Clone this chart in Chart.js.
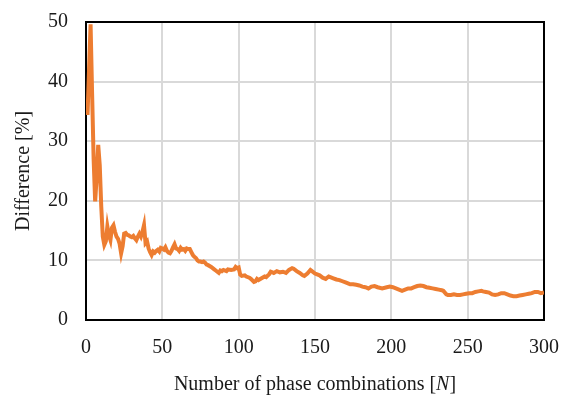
<!DOCTYPE html>
<html>
<head>
<meta charset="utf-8">
<script src="https://cdn.jsdelivr.net/npm/chart.js@4/dist/chart.umd.min.js"></script>
<style>
  html, body { margin: 0; padding: 0; background: #ffffff; }
  #wrap { width: 562px; height: 396px; }
</style>
</head>
<body>
<div id="wrap"><canvas id="c" width="562" height="396"></canvas></div>
<script>
// Number of phase combinations N
const combos = [
  1, 2, 3, 4, 5, 6, 7, 8, 9, 10,
  11, 12, 13, 14, 15, 16, 17, 18, 19, 20,
  21, 22, 23, 24, 25, 26, 27, 28, 29, 30,
  31, 32, 33, 34, 35, 36, 37, 38, 39, 40,
  41, 42, 43, 44, 45, 46, 47, 48, 49, 50,
  51, 52, 53, 54, 55, 56, 57, 58, 59, 60,
  61, 62, 63, 64, 65, 66, 67, 68, 69, 70,
  71, 72, 73, 74, 75, 76, 77, 78, 79, 80,
  82, 83, 84, 85, 86, 87, 88, 89, 90, 92,
  93, 95, 97, 98, 99, 100, 101, 102, 104, 105,
  107, 108, 110, 111, 112, 113, 115, 117, 118, 120,
  121, 123, 125, 127, 129, 131, 133, 135, 136, 138,
  140, 142, 143, 145, 147, 148, 150, 151, 153, 155,
  157, 159, 160, 162, 164, 166, 168, 170, 172, 173,
  175, 177, 179, 181, 183, 185, 187, 189, 191, 194,
  197, 199, 201, 203, 205, 207, 209, 211, 213, 215,
  217, 219, 221, 223, 225, 227, 229, 231, 233, 234,
  236, 237, 239, 241, 243, 245, 247, 249, 251, 253,
  255, 257, 259, 260, 262, 264, 266, 268, 270, 272,
  274, 276, 278, 280, 282, 284, 286, 288, 290, 292,
  294, 296, 298, 300
];

// Difference [%]
const difference = [
  34.4, 42.0, 49.6, 38.0, 27.0, 19.9, 24.0, 29.4, 26.0, 19.0,
  14.0, 12.6, 13.2, 15.7, 14.2, 13.4, 15.5, 15.9, 14.8, 14.0,
  13.6, 12.8, 11.2, 12.4, 14.5, 14.6, 14.3, 14.2, 14.0, 13.9,
  14.1, 13.7, 13.4, 14.0, 14.5, 14.0, 14.8, 15.9, 12.9, 13.2,
  12.0, 11.4, 10.9, 11.5, 11.3, 11.6, 11.8, 11.5, 12.1, 12.0,
  11.8, 12.2, 11.6, 11.3, 11.2, 11.6, 12.2, 12.7, 12.0, 11.9,
  11.6, 12.1, 11.8, 11.9, 11.6, 12.0, 11.9, 11.9, 11.4, 10.9,
  10.6, 10.4, 10.0, 9.8, 9.8, 9.7, 9.8, 9.6, 9.3, 9.2,
  8.9, 8.7, 8.5, 8.3, 8.1, 7.9, 8.3, 8.2, 8.4, 8.2,
  8.5, 8.4, 8.5, 8.9, 8.7, 8.8, 7.6, 7.4, 7.5, 7.3,
  7.1, 6.9, 6.4, 6.5, 6.9, 6.7, 7.0, 7.3, 7.2, 7.7,
  8.1, 7.9, 8.2, 8.0, 8.1, 7.9, 8.4, 8.7, 8.6, 8.2,
  7.9, 7.5, 7.4, 7.8, 8.4, 8.2, 7.8, 7.7, 7.5, 7.1,
  6.9, 7.3, 7.2, 7.0, 6.8, 6.7, 6.5, 6.3, 6.1, 6.0,
  6.0, 5.9, 5.8, 5.6, 5.5, 5.3, 5.6, 5.7, 5.5, 5.3,
  5.5, 5.6, 5.5, 5.3, 5.1, 4.9, 5.1, 5.3, 5.3, 5.5,
  5.7, 5.8, 5.7, 5.5, 5.4, 5.3, 5.2, 5.1, 5.0, 4.9,
  4.3, 4.2, 4.2, 4.3, 4.2, 4.2, 4.3, 4.4, 4.5, 4.5,
  4.7, 4.8, 4.9, 4.8, 4.7, 4.6, 4.3, 4.2, 4.3, 4.5,
  4.5, 4.3, 4.1, 4.0, 4.0, 4.1, 4.2, 4.3, 4.4, 4.5,
  4.7, 4.7, 4.5, 4.6
];

const xTicks = [0, 50, 100, 150, 200, 250, 300];
const yTicks = [0, 10, 20, 30, 40, 50];

const serif = "'Liberation Serif', 'Times New Roman', serif";
const textColor = '#1a1a1a';

const points = combos.map((n, i) => ({ x: n, y: difference[i] }));

// Black frame around the plot area
const framePlugin = {
  id: 'plotFrame',
  beforeDatasetsDraw(chart) {
    const a = chart.chartArea;
    const ctx = chart.ctx;
    ctx.save();
    ctx.strokeStyle = '#000000';
    ctx.lineWidth = 2;
    ctx.strokeRect(a.left, a.top, a.right - a.left, a.bottom - a.top);
    ctx.restore();
  }
};

// X axis title with the italic symbol N
const xTitlePlugin = {
  id: 'xTitle',
  afterDraw(chart) {
    const a = chart.chartArea;
    const ctx = chart.ctx;
    const parts = [
      { t: 'Number of phase combinations [', f: '20px ' + serif },
      { t: 'N', f: 'italic 20px ' + serif },
      { t: ']', f: '20px ' + serif }
    ];
    ctx.save();
    ctx.fillStyle = textColor;
    ctx.textBaseline = 'alphabetic';
    let total = 0;
    parts.forEach(p => { ctx.font = p.f; p.w = ctx.measureText(p.t).width; total += p.w; });
    let x = (a.left + a.right) / 2 - total / 2;
    const y = 390;
    parts.forEach(p => { ctx.font = p.f; ctx.fillText(p.t, x, y); x += p.w; });
    ctx.restore();
  }
};

new Chart(document.getElementById('c'), {
  type: 'line',
  data: {
    datasets: [{
      data: points,
      borderColor: '#ED7D31',
      borderWidth: 4,
      pointRadius: 0,
      tension: 0,
      fill: false
    }]
  },
  options: {
    responsive: false,
    animation: false,
    devicePixelRatio: 1,
    layout: { padding: { top: 22, right: 18, left: 0, bottom: 0 } },
    plugins: { legend: { display: false }, tooltip: { enabled: false } },
    scales: {
      x: {
        type: 'linear',
        min: 0,
        max: 300,
        afterBuildTicks(scale) { scale.ticks = xTicks.map(v => ({ value: v })); },
        afterFit(scale) {
          scale.height = 76;
          scale.paddingLeft = 0;
          scale.paddingRight = 0;
        },
        grid: { color: '#d9d9d9', lineWidth: 2, drawTicks: false },
        border: { display: false },
        ticks: { font: { family: serif, size: 20 }, color: textColor, padding: 16, maxRotation: 0 }
      },
      y: {
        min: 0,
        max: 50,
        afterBuildTicks(scale) { scale.ticks = yTicks.map(v => ({ value: v })); },
        afterFit(scale) {
          scale.width = 86;
          scale.paddingTop = 0;
          scale.paddingBottom = 0;
        },
        grid: { color: '#d9d9d9', lineWidth: 2, drawTicks: false },
        border: { display: false },
        ticks: { font: { family: serif, size: 20 }, color: textColor, padding: 18 },
        title: {
          display: true,
          text: 'Difference [%]',
          font: { family: serif, size: 20 },
          color: textColor,
          padding: { top: 12, bottom: 0 }
        }
      }
    }
  },
  plugins: [framePlugin, xTitlePlugin]
});
</script>
</body>
</html>
